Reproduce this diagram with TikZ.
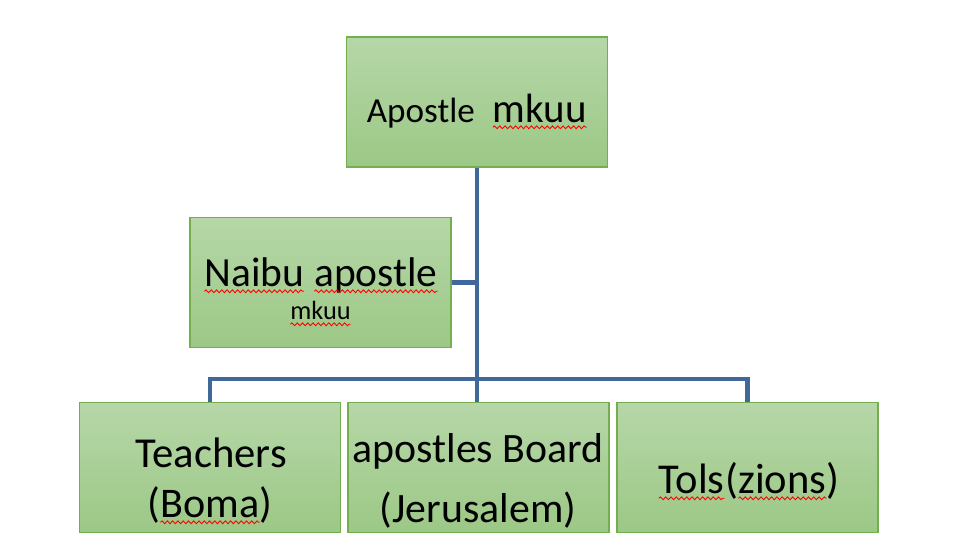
\documentclass[tikz,border=0pt]{standalone}
\usepackage{fontspec}
\setmainfont{Carlito}
\usepackage{xcolor}
\usetikzlibrary{decorations.pathmorphing}
\definecolor{boxtop}{HTML}{B6D7A8}
\definecolor{boxbot}{HTML}{9CC886}
\definecolor{boxline}{HTML}{74AE4E}
\definecolor{linkblue}{HTML}{41689B}
\newcommand\bw{5.22cm}
\newcommand\bh{2.6cm}
% red wavy mark under a word
\newcommand\spellmark[1]{\tikz[baseline=(sw.base),x=1pt,y=1pt]{%
    \node[inner sep=0pt,outer sep=0pt] (sw) {#1};
    \draw[red,line width=0.5pt,decorate,decoration={snake,amplitude=0.8pt,segment length=3pt}]
      ([yshift=-3pt]sw.base west) -- ([yshift=-3pt]sw.base east);}}

\begin{document}
\begin{tikzpicture}[x=0.02cm,y=-0.02cm,
    orgbox/.style={draw=boxline,line width=0.7pt,top color=boxtop,bottom color=boxbot,
      minimum width=\bw,minimum height=\bh,inner sep=0pt},
    lbl/.style={anchor=base,inner sep=0pt},
    link/.style={draw=linkblue,line width=2.4pt}]
    \useasboundingbox (0,0) rectangle (954,549);

    \node[orgbox] (apostle) at (477,102) {};
    \node[orgbox] (naibu) at (320.5,282.5) {};
    \node[orgbox] (teachers) at (210,467.5) {};
    \node[orgbox] (board) at (478.5,467.5) {};
    \node[orgbox] (tols) at (747.5,467.5) {};

    \coordinate (hub) at (477,379);
    \draw[link] (apostle.south) -- (board.north -| apostle.south);
    \draw[link] (teachers.north) -- (teachers.north |- hub) -- (tols.north |- hub) -- (tols.north);
    \draw[link] (naibu.east) -- (naibu.east -| apostle.south);

    \node[lbl] (apostletxt) at (477,122)
      {\fontsize{20}{24}\selectfont Apostle\hspace{10pt}\fontsize{23.3}{27}\selectfont\spellmark{mkuu}};
    \node[lbl] (naibutxt) at (321,286)
      {\fontsize{23.6}{28}\selectfont\spellmark{Naibu} \spellmark{apostle}};
    \node[lbl] (naibusub) at (320.5,319) {\fontsize{15}{18}\selectfont\spellmark{mkuu}};
    \node[lbl] (teacherstxt) at (211,467) {\fontsize{24.3}{28}\selectfont Teachers};
    \node[lbl] (bomatxt) at (210,517) {\fontsize{24}{28}\selectfont (\spellmark{Boma})};
    \node[lbl] (boardtxt) at (478,462) {\fontsize{23.8}{28}\selectfont apostles Board};
    \node[lbl] (jerutxt) at (478,522) {\fontsize{23.8}{28}\selectfont (Jerusalem)};
    \node[lbl] (tolstxt) at (749,493)
      {\fontsize{24.2}{28}\selectfont\spellmark{Tols}(\spellmark{zions})};
\end{tikzpicture}
\end{document}
